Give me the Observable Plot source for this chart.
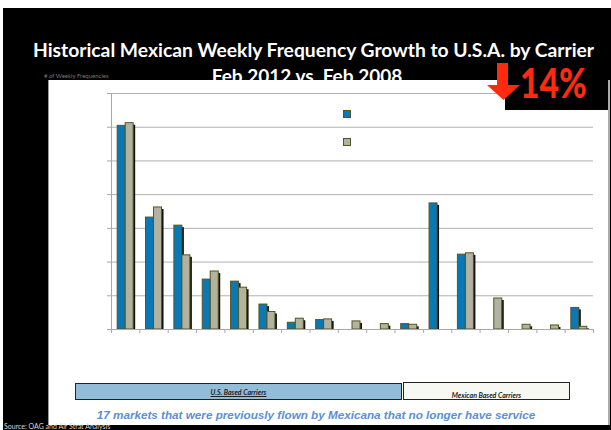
<!DOCTYPE html>
<html><head><meta charset="utf-8">
<script src="https://cdn.jsdelivr.net/npm/d3@7"></script>
<script src="https://cdn.jsdelivr.net/npm/@observablehq/plot@0.6"></script>
<style>
html,body{margin:0;padding:0;background:#fff;}
#page{position:relative;width:611px;height:430px;overflow:hidden;font-family:Lato,"Open Sans",sans-serif;}
.abs{position:absolute;}
#bg{left:3px;top:8px;width:608px;height:422px;background:#000;}
#title{left:20px;width:587px;top:38px;text-align:center;color:#fff;font-weight:700;font-size:19.3px;white-space:nowrap;}
#subtitle{left:0;width:614px;top:64px;text-align:center;color:#fff;font-weight:700;font-size:19px;white-space:nowrap;}
#panel{left:48px;top:80px;width:559px;height:345px;background:#fff;border-left:1px solid #999;border-right:2px solid #aaa;}
#ylab{left:44px;top:72px;color:#777;font-size:6px;white-space:nowrap;}
#chart{left:0;top:0;}
#blackbox{left:505px;top:80px;width:103px;height:30px;background:#000;}
#pct{left:520px;top:58px;color:#ff2a10;font-weight:900;font-size:41px;white-space:nowrap;transform:scaleX(0.82);transform-origin:0 0;line-height:1.2;}
#arrow{left:480px;top:60px;}
.grp{top:383px;height:15px;border:1px solid #222;font-weight:700;font-style:italic;font-size:7px;text-align:center;color:#222;}
#us{left:75px;width:325px;background:#92bcd8;line-height:16px;}
#us span{text-decoration:underline;}
#mx{left:403px;width:165px;background:#f8f8f2;line-height:24px;height:16px;top:382px;overflow:hidden;}
#note{left:0;width:632px;top:408px;text-align:center;color:#5a8fd9;font-family:"Liberation Sans",Arial,sans-serif;font-weight:700;font-style:italic;font-size:11.7px;white-space:nowrap;}
#source{left:4px;top:422px;color:#d8d8d8;font-size:7px;white-space:nowrap;}
.sw{width:6px;height:6px;border:1px solid #55551f;}
.lg{color:#fff;font-size:8px;white-space:nowrap;}
</style>
</head>
<body>
<div id="page">
  <div id="bg" class="abs"></div>
  <div id="title" class="abs">Historical Mexican Weekly Frequency Growth to U.S.A. by Carrier</div>
  <div id="subtitle" class="abs">Feb 2012 vs. Feb 2008</div>
  <div id="panel" class="abs"></div>
  <div id="ylab" class="abs"># of Weekly Frequencies</div>
  <div id="chart" class="abs"></div>
  <div id="blackbox" class="abs"></div>
  <svg id="arrow" class="abs" width="45" height="45"><polygon points="17,3 28,3 28,25 40,25 23.5,40 7,25 17,25" fill="#ff2a10"/></svg>
  <div id="pct" class="abs">14%</div>
  <div id="sw1" class="abs sw" style="left:343px;top:110px;background:#0a78b4"></div>
  <div id="lg1" class="abs lg" style="left:356px;top:108px">Feb 2012</div>
  <div id="sw2" class="abs sw" style="left:343px;top:138px;background:#b2b2a0"></div>
  <div id="lg2" class="abs lg" style="left:356px;top:136px">Feb 2008</div>
  <div id="us" class="abs grp"><span>U.S. Based Carriers</span></div>
  <div id="mx" class="abs grp">Mexican Based Carriers</div>
  <div id="note" class="abs">17 markets that were previously flown by Mexicana that no longer have service</div>
  <div id="source" class="abs">Source: OAG and Air Strat Analysis</div>
</div>
<script>
// Data (weekly frequencies, approximate)
const carriers = ["US-1","US-2","US-3","US-4","US-5","US-6","US-7","US-8","US-9","US-10",
                  "MX-1","MX-2","MX-3","MX-4","MX-5","MX-6","MX-7"];
const feb2012 = [302,166,154,74,71,37,10,14,0,0,8,187,111,0,0,0,32];
const feb2008 = [306,181,110,86,62,26,16,15,12,8,7,0,113,46,7,6,4];
const yTicks = [0,50,100,150,200,250,300,350];
const seriesNames = ["Feb 2012","Feb 2008"];

const colors = {"Feb 2012":"#0a78b4","Feb 2008":"#b2b2a0"};
// grouped-bar offsets within each category slot (fraction of slot)
const groupOffset = {"Feb 2012":[0.218,0.5],"Feb 2008":[0.5,0.782]};

const rows = [];
carriers.forEach((c,i) => {
  rows.push({carrier:c, i, series:"Feb 2012", value:feb2012[i]});
  rows.push({carrier:c, i, series:"Feb 2008", value:feb2008[i]});
});
const bars = rows.filter(d => d.value > 0);

const chart = Plot.plot({
  width: 611, height: 430,
  marginLeft: 111, marginRight: 18, marginTop: 93, marginBottom: 101,
  style: {background: "transparent", overflow: "visible"},
  x: {type: "linear", domain: [0, carriers.length], label: null},
  y: {domain: [0, 350], label: null},
  color: {domain: seriesNames, range: seriesNames.map(s => colors[s])},
  marks: [
    Plot.gridY(yTicks, {stroke: "#b0b0b0", strokeOpacity: 1}),
    Plot.ruleX([0], {stroke: "#a8a8a8"}),
    Plot.axisY({ticks: yTicks, tickSize: 4, tickFormat: () => "", stroke: "#a8a8a8", label: null}),
    Plot.axisX({ticks: d3.range(carriers.length + 1), tickSize: 4, tickFormat: () => "", stroke: "#a8a8a8", label: null}),
    Plot.rect(bars, {x1: d => d.i + groupOffset[d.series][0], x2: d => d.i + groupOffset[d.series][1],
      y1: 0, y2: "value", fill: "#111", dx: 2, dy: 2, insetBottom: 2}),
    Plot.rect(bars, {x1: d => d.i + groupOffset[d.series][0], x2: d => d.i + groupOffset[d.series][1],
      y1: 0, y2: "value", fill: "series", stroke: "#55551f", strokeWidth: 1}),
    Plot.ruleY([0], {stroke: "#a8a8a8"})
  ]
});
document.getElementById("chart").appendChild(chart);
</script>
</body></html>
